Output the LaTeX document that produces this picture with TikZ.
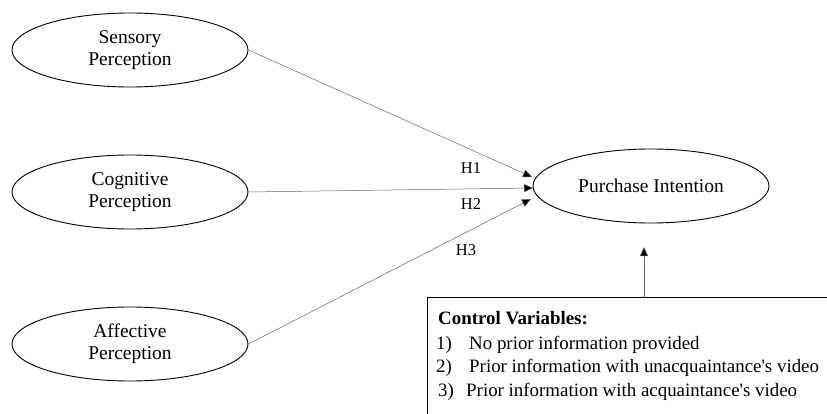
\documentclass[tikz,border=0pt]{standalone}
\usepackage{fontspec}
\setmainfont{Liberation Serif}[Ligatures=TeXOff]
\usetikzlibrary{arrows.meta,shapes.geometric}
\begin{document}
\begin{tikzpicture}[x=1pt,y=-1pt,
  construct/.style={draw, ellipse, line width=0.9pt, minimum width=236, minimum height=74,
    inner sep=0pt, align=center, font=\fontsize{19.5}{22}\selectfont},
  link/.style={draw=black!60, line width=0.5pt, -{Triangle[length=9pt,width=8pt,fill=black]}},
  hlabel/.style={font=\fontsize{16.5}{18}\selectfont},
  cvtext/.style={anchor=base west, inner sep=0pt, font=\fontsize{18.9}{22}\selectfont}]
\useasboundingbox (0,0) rectangle (827,414);

% exogenous constructs
\node[construct] (s) at (130,50) {Sensory\\Perception};
\node[construct] (c) at (130,192) {Cognitive\\Perception};
\node[construct] (a) at (130,344) {Affective\\Perception};

% outcome
\node[construct] (p) at (651,186) {Purchase Intention};

% arrow end points just left of the outcome ellipse
\coordinate (e1) at (532,177);
\coordinate (e2) at (533,188);
\coordinate (e3) at (531,199);

\draw[link] (s.east) -- (e1);
\draw[link] (c.east) -- (e2);
\draw[link] (a.east) -- (e3);

\node[hlabel] (h1) at (471,168) {H1};
\node[hlabel] (h2) at (471,204) {H2};
\node[hlabel] (h3) at (466,250) {H3};

% control variables box
\node[draw, line width=0.6pt, anchor=north west, minimum width=430, minimum height=140,
  inner sep=0pt] (cv) at (427,297) {};
\coordinate (vt) at (644,247);
\draw[link] (cv.north -| vt) -- (vt);

\node[cvtext, font=\fontsize{18.9}{22}\selectfont\bfseries] (t0) at (438,324) {Control Variables:};
\node[cvtext] (n1) at (436,349) {1)};
\node[cvtext] (l1) at (469,349) {No prior information provided};
\node[cvtext] (n2) at (436,372) {2)};
\node[cvtext] (l2) at (469,372) {Prior information with unacquaintance's video};
\node[cvtext] (n3) at (438,396) {3)};
\node[cvtext] (l3) at (466,396) {Prior information with acquaintance's video};
\end{tikzpicture}
\end{document}
